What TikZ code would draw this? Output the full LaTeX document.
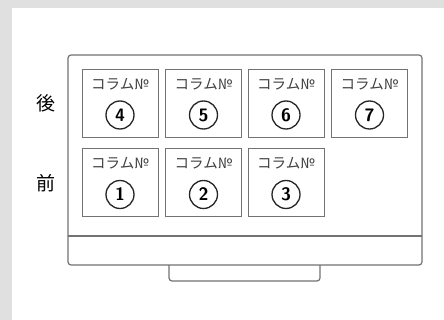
\documentclass[tikz,border=0pt]{standalone}
\usepackage{fontspec}
\newfontfamily\jpfont{Noto Sans CJK JP}
\definecolor{frame}{gray}{0.45}
\definecolor{paper}{gray}{0.88}
\tikzset{
  colbox/.style={draw=frame, line width=0.9pt, minimum width=76pt, minimum height=68pt, inner sep=0pt},
  colno/.style={draw=black!85, circle, line width=1.3pt, minimum size=28pt, inner sep=0pt, font=\sffamily\bfseries\fontsize{18}{18}\selectfont},
  coltitle/.style={font=\jpfont\fontsize{14.5}{14.5}\selectfont, text=black!75},
  side/.style={font=\jpfont\fontsize{19}{19}\selectfont}
}
\begin{document}
\begin{tikzpicture}[x=1pt,y=-1pt]
\useasboundingbox (0,0) rectangle (444,320);
\fill[paper] (0,0) rectangle (444,320);
\fill[white] (12,8) rectangle (444,320);
% case and stand
\draw[frame, line width=1.2pt, rounded corners=3pt] (68,55) -- (68,265) -- (422,265) -- (422,55) -- cycle;
\draw[frame, line width=1.2pt, rounded corners=3pt] (169,265) -- (169,281) -- (320,281) -- (320,265);
\draw[black!55, line width=2.6pt] (68,236) -- (422,236);
% columns
\foreach \n/\x/\y in {4/120/103, 5/203.5/103, 6/286/103, 7/369.5/103, 1/120/182.5, 2/203.5/182.5, 3/286/182.5} {
  \node[colbox] (box\n) at (\x,\y) {};
  \node[coltitle] (title\n) at ([yshift=19pt]box\n.center) {コラム№};
  \node[colno] (num\n) at ([yshift=-12pt]box\n.center) {\n};
}
\node[side] (back) at (46,103) {後};
\node[side] (front) at (46,183) {前};
\end{tikzpicture}
\end{document}
